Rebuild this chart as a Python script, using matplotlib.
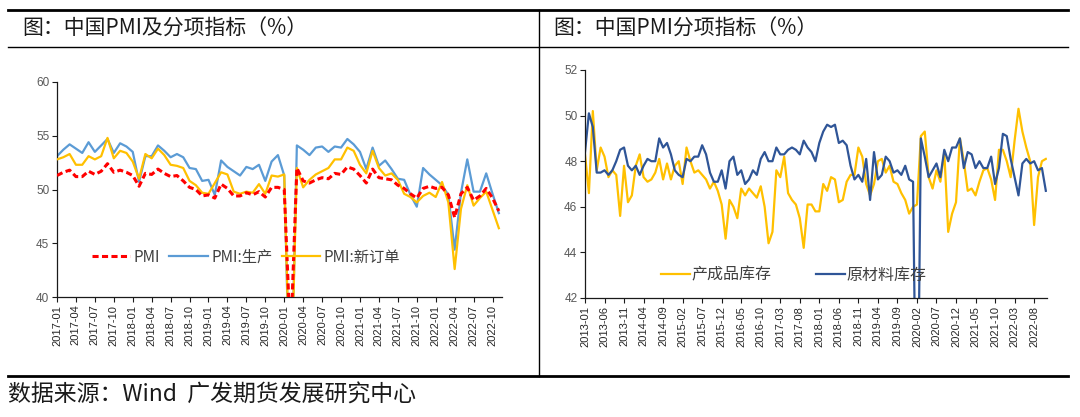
import numpy as np
import pandas as pd
import matplotlib
matplotlib.use('Agg')
import matplotlib.pyplot as plt
from matplotlib.lines import Line2D

plt.rcParams['font.family'] = ['Noto Sans CJK SC', 'DejaVu Sans']

# left chart: PMI and two sub-indices, monthly 2017-01 .. 2022-11
pmi_months = pd.period_range('2017-01', '2022-11', freq='M').strftime('%Y-%m').tolist()
pmi = [51.3, 51.6, 51.8, 51.2, 51.2, 51.7, 51.4, 51.7, 52.4, 51.6, 51.8, 51.6,
       51.3, 50.3, 51.5, 51.4, 51.9, 51.5, 51.2, 51.3, 50.8, 50.2, 50.0, 49.4,
       49.5, 49.2, 50.5, 50.1, 49.4, 49.4, 49.7, 49.5, 49.8, 49.3, 50.2, 50.2,
       50.0, 35.7, 52.0, 50.8, 50.6, 50.9, 51.1, 51.0, 51.5, 51.4, 52.1, 51.9,
       51.3, 50.6, 51.9, 51.1, 51.0, 50.9, 50.4, 50.1, 49.6, 49.2, 50.1, 50.3,
       50.1, 50.2, 49.5, 47.4, 49.6, 50.2, 49.0, 49.4, 50.1, 49.2, 48.0]
pmi_prod = [53.1, 53.7, 54.2, 53.8, 53.4, 54.4, 53.5, 54.1, 54.7, 53.4, 54.3, 54.0,
            53.5, 50.7, 53.1, 53.1, 54.1, 53.6, 53.0, 53.3, 53.0, 52.0, 51.9, 50.8,
            50.9, 49.5, 52.7, 52.1, 51.7, 51.3, 52.1, 51.9, 52.3, 50.8, 52.6, 53.2,
            51.3, 27.8, 54.1, 53.7, 53.2, 53.9, 54.0, 53.5, 54.0, 53.9, 54.7, 54.2,
            53.5, 51.9, 53.9, 52.2, 52.7, 51.9, 51.0, 50.9, 49.5, 48.4, 52.0, 51.4,
            50.9, 50.4, 49.5, 44.4, 49.7, 52.8, 49.8, 49.8, 51.5, 49.6, 47.8]
pmi_orders = [52.8, 53.0, 53.3, 52.3, 52.3, 53.1, 52.8, 53.1, 54.8, 52.9, 53.6, 53.4,
              52.6, 51.0, 53.3, 52.9, 53.8, 53.2, 52.3, 52.2, 52.0, 50.8, 50.4, 49.7,
              49.6, 50.6, 51.6, 51.4, 49.8, 49.6, 49.8, 49.7, 50.5, 49.6, 51.3, 51.2,
              51.4, 29.3, 52.0, 50.2, 50.9, 51.4, 51.7, 52.0, 52.8, 52.8, 53.9, 53.6,
              52.3, 51.5, 53.6, 52.0, 51.3, 51.5, 50.9, 49.6, 49.3, 48.8, 49.4, 49.7,
              49.3, 50.7, 48.8, 42.6, 48.2, 50.4, 48.5, 49.2, 49.8, 48.1, 46.4]

# right chart: inventory sub-indices, monthly 2013-01 .. 2022-11
inv_months = pd.period_range('2013-01', '2022-11', freq='M').strftime('%Y-%m').tolist()
finished_goods = [48.3, 46.6, 50.2, 47.6, 48.6, 48.2, 47.3, 47.6, 47.4, 45.6, 47.8, 46.2,
                  46.5, 47.8, 48.3, 47.3, 47.1, 47.2, 47.5, 48.1, 47.2, 47.9, 47.2, 47.8,
                  48.0, 47.0, 48.6, 48.0, 47.5, 47.6, 47.4, 47.2, 46.8, 47.1, 46.7, 46.1,
                  44.6, 46.3, 46.0, 45.5, 46.8, 46.5, 46.8, 46.6, 46.4, 46.9, 46.0, 44.4,
                  44.9, 47.6, 47.3, 48.2, 46.6, 46.3, 46.1, 45.5, 44.2, 46.1, 46.1, 45.8,
                  45.8, 47.0, 46.7, 47.3, 47.2, 46.2, 46.3, 47.1, 47.4, 47.4, 48.6, 48.2,
                  47.0, 46.5, 47.0, 48.0, 48.1, 47.5, 47.8, 47.1, 47.0, 46.6, 46.3, 45.7,
                  46.0, 46.1, 49.1, 49.3, 47.3, 46.8, 47.6, 47.1, 48.4, 44.9, 45.7, 46.2,
                  49.0, 48.0, 46.7, 46.8, 46.5, 47.1, 47.6, 47.7, 47.2, 46.3, 48.5, 48.5,
                  48.0, 47.3, 48.9, 50.3, 49.3, 48.6, 48.0, 45.2, 47.3, 48.0, 48.1]
raw_materials = [48.4, 50.1, 49.5, 47.5, 47.5, 47.6, 47.4, 47.6, 48.0, 48.5, 48.6, 47.8,
                 47.6, 47.8, 47.4, 47.8, 48.1, 48.0, 48.0, 49.0, 48.6, 48.8, 48.3, 47.6,
                 47.4, 47.3, 48.1, 48.0, 48.2, 48.2, 48.7, 48.3, 47.5, 47.1, 47.1, 47.6,
                 46.8, 48.0, 48.2, 47.4, 47.6, 47.0, 47.2, 47.6, 47.4, 48.1, 48.4, 48.0,
                 48.0, 48.6, 48.3, 48.3, 48.5, 48.6, 48.5, 48.3, 48.9, 48.6, 48.4, 48.0,
                 48.8, 49.3, 49.6, 49.5, 49.6, 48.8, 48.9, 48.7, 47.8, 47.2, 47.4, 47.1,
                 48.1, 46.3, 48.4, 47.2, 47.4, 48.2, 48.0, 47.5, 47.6, 47.4, 47.8, 47.2,
                 47.1, 32.9, 49.0, 48.2, 47.3, 47.6, 47.9, 47.3, 48.5, 48.0, 48.6, 48.6,
                 49.0, 47.7, 48.4, 48.3, 47.7, 48.0, 47.7, 47.7, 48.2, 47.0, 47.7, 49.2,
                 49.1, 48.1, 47.3, 46.5, 47.9, 48.1, 47.9, 48.0, 47.6, 47.7, 46.7]

W, H = 1080, 417
fig = plt.figure(figsize=(W / 100, H / 100), dpi=100)


def rule(x0, y0, x1, y1, lw):
    # frame lines given in pixels from the top-left corner
    fig.add_artist(Line2D([x0 / W, x1 / W], [1 - y0 / H, 1 - y1 / H],
                          color='black', lw=lw, transform=fig.transFigure))


def axes_px(left, top, right, bottom):
    return fig.add_axes([left / W, 1 - bottom / H, (right - left) / W, (bottom - top) / H])


def style(ax, months, step, yticks):
    for s in ['top', 'right']:
        ax.spines[s].set_visible(False)
    for s in ['left', 'bottom']:
        ax.spines[s].set_color('#1a1a1a')
        ax.spines[s].set_linewidth(0.9)
    pos = np.arange(0, len(months), step)
    ax.set_xticks(pos)
    ax.set_xticklabels([months[i] for i in pos], rotation=90, fontsize=8,
                       family=['Liberation Sans'], color='#262626')
    ax.set_yticks(yticks)
    ax.set_yticklabels([str(v) for v in yticks], fontsize=8.5,
                       family=['Liberation Sans'], color='#595959')
    ax.tick_params(direction='out', length=3.5, width=0.8, color='#1a1a1a', pad=2)
    ax.set_ylim(yticks[0], yticks[-1])


# frame
rule(8, 10, 1068, 10, 2.0)
rule(8, 47, 1068, 47, 1.0)
rule(8, 376, 1068, 376, 2.0)
rule(538.5, 10, 538.5, 376, 1.0)

fig.text(22 / W, 1 - 29 / H, '图：中国PMI及分项指标（%）', fontsize=15,
         ha='left', va='center', color='#1a1a1a')
fig.text(553 / W, 1 - 29 / H, '图：中国PMI分项指标（%）', fontsize=15,
         ha='left', va='center', color='#1a1a1a')
fig.text(8 / W, 1 - 395 / H, '数据来源：Wind  广发期货发展研究中心', fontsize=16.5,
         ha='left', va='center', color='#1a1a1a')

# left chart
ax1 = axes_px(57, 82, 502, 297)
x1 = np.arange(len(pmi_months))
ax1.plot(x1, pmi_prod, color='#5B9BD5', lw=1.6, label='PMI:生产', zorder=2)
ax1.plot(x1, pmi_orders, color='#FFC000', lw=1.6, label='PMI:新订单', zorder=3)
ax1.plot(x1, pmi, color='#FF0000', lw=2.2, ls=(0, (2.0, 1.1)), label='PMI', zorder=4)
style(ax1, pmi_months, 3, [40, 45, 50, 55, 60])
ax1.set_xlim(0, len(pmi_months) - 0.5)
h, l = ax1.get_legend_handles_labels()
order = [2, 0, 1]
ax1.legend([h[i] for i in order], [l[i] for i in order], ncol=3, frameon=False,
           loc='center', bbox_to_anchor=(0.425, 0.186), fontsize=11,
           handlelength=2.5, handletextpad=0.25, columnspacing=0.6,
           labelcolor='#404040', borderaxespad=0)

# right chart
ax2 = axes_px(585, 70, 1047, 298)
x2 = np.arange(len(inv_months))
ax2.plot(x2, finished_goods, color='#FFC000', lw=1.6, label='产成品库存')
ax2.plot(x2, raw_materials, color='#2F5597', lw=1.6, label='原材料库存')
style(ax2, inv_months, 5, [42, 44, 46, 48, 50, 52])
ax2.set_xlim(0, len(inv_months) - 0.7)
ax2.legend(ncol=2, frameon=False, loc='center', bbox_to_anchor=(0.452, 0.10),
           fontsize=11.5, handlelength=1.8, handletextpad=0.1, columnspacing=2.8,
           labelcolor='#404040', borderaxespad=0)

fig.savefig('out.png', dpi=100)
